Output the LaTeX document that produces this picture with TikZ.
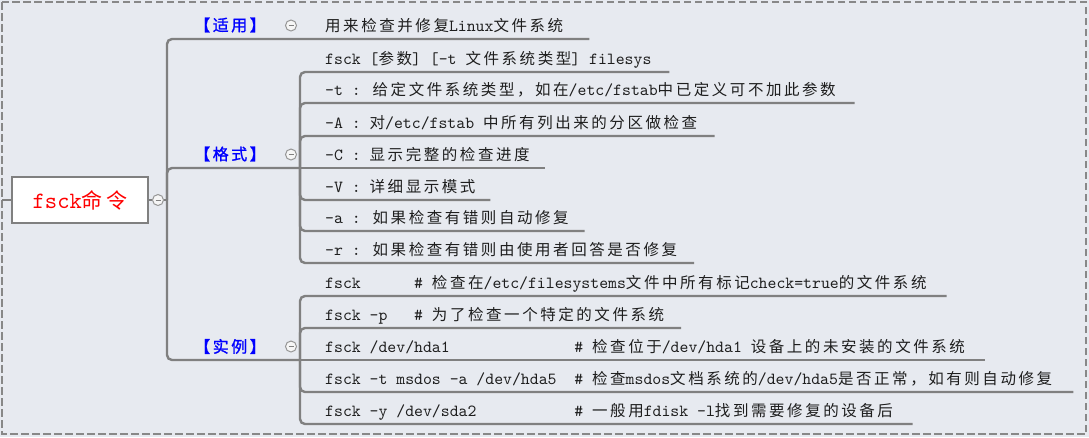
\documentclass[tikz,border=0pt]{standalone}
\usepackage{fontspec}
\usetikzlibrary{calc}
\newfontfamily\zhfont{Noto Sans CJK SC}[LetterSpace=16.5]
\newfontfamily\zhlabfont{Noto Sans CJK SC}[FakeBold=1.2,LetterSpace=15.6]
\newfontfamily\latfont{lmmono10-regular.otf}
\newcommand\zh[1]{{\zhfont\fontsize{15.5pt}{20pt}\selectfont #1}}
\newcommand\mcol[2]{\makebox[#1\fontcharwd\font`0][l]{#2}}
\definecolor{bgc}{RGB}{231,234,240}
\definecolor{lng}{RGB}{128,128,128}
\definecolor{brd}{RGB}{136,136,136}
\definecolor{txt}{RGB}{30,30,30}
\definecolor{labblue}{RGB}{0,0,255}
\definecolor{rootred}{RGB}{255,0,0}
\tikzset{
  br/.style={draw=lng, line width=2.4pt, rounded corners=5pt},
  body/.style={anchor=base west, inner sep=0pt, text=txt,
    font=\latfont\fontsize{16.95pt}{20pt}\selectfont},
  lab/.style={inner sep=0pt, text=labblue,
    font=\zhlabfont\fontsize{16pt}{20pt}\selectfont},
  rootbox/.style={draw=lng, line width=2pt, fill=white, minimum width=136pt,
    minimum height=46.5pt, inner sep=0pt, text=rootred},
  toggle/.style={circle, draw={rgb,255:red,150;green,150;blue,150}, line width=1pt,
    fill={rgb,255:red,246;green,246;blue,246}, minimum size=11pt, inner sep=0pt,
    path picture={\draw[lng, line width=1pt]
      ($(path picture bounding box.west)+(3,0)$) -- ($(path picture bounding box.east)+(-3,0)$);}}
}
\begin{document}
\begin{tikzpicture}[x=1pt,y=-1pt]
\useasboundingbox (0,0) rectangle (1089,437);
\fill[bgc] (0,0) rectangle (1089,437);
\draw[brd, line width=1.6pt, dash pattern=on 7.5pt off 3.5pt] (2,2) rectangle (1086,434);

% root
\node[rootbox] (root) at (80,200)
  {{\latfont\fontsize{23.4pt}{26pt}\selectfont fsck}{\zhfont\fontsize{21pt}{26pt}\selectfont 命令}};
\node[toggle] (rc) at (158,200) {};
\coordinate (edge) at (2,200);
\coordinate (J) at (167,200);

% category labels
\node[lab] (sy) at (230,25) {【适用】};
\node[lab] (gs) at (230,154) {【格式】};
\node[lab] (sl) at (230,346.5) {【实例】};
\node[toggle] (c0) at (291,25.5) {};
\node[toggle] (c1) at (291,154.5) {};
\node[toggle] (c2) at (291,346.5) {};
\coordinate (gsj) at (300,168);
\coordinate (slj) at (300,360);

% 适用
\node[body] (t0) at (325,31) {\zh{用来检查并修复}Linux\zh{文件系统}};

% 格式
\node[body] (f0) at (325,64)  {fsck [\zh{参数}] [-t \zh{文件系统类型}] filesys};
\node[body] (f1) at (325,95)  {-t : \zh{给定文件系统类型，如在}/etc/fstab\zh{中已定义可不加此参数}};
\node[body] (f2) at (325,128) {-A : \zh{对}/etc/fstab \zh{中所有列出来的分区做检查}};
\node[body] (f3) at (325,160) {-C : \zh{显示完整的检查进度}};
\node[body] (f4) at (325,192) {-V : \zh{详细显示模式}};
\node[body] (f5) at (325,223) {-a : \zh{如果检查有错则自动修复}};
\node[body] (f6) at (325,255) {-r : \zh{如果检查有错则由使用者回答是否修复}};

% 实例
\node[body] (e0) at (325,288) {\mcol{10}{fsck}\#\ \zh{检查在}/etc/filesystems\zh{文件中所有标记}check=true\zh{的文件系统}};
\node[body] (e1) at (325,320) {\mcol{10}{fsck -p}\#\ \zh{为了检查一个特定的文件系统}};
\node[body] (e2) at (325,352) {\mcol{28}{fsck /dev/hda1}\#\ \zh{检查位于}/dev/hda1 \zh{设备上的未安装的文件系统}};
\node[body] (e3) at (325,384) {\mcol{28}{fsck -t msdos -a /dev/hda5}\#\ \zh{检查}msdos\zh{文档系统的}/dev/hda5\zh{是否正常，如有则自动修复}};
\node[body] (e4) at (325,416) {\mcol{28}{fsck -y /dev/sda2}\#\ \zh{一般用}fdisk -l\zh{找到需要修复的设备后}};

% connectors
\draw[br] (edge) -- (root.west);
\draw[br] (root.east) -- (rc.west);
\draw[br] (rc.east) -- (J);
\draw[br] (J) |- ($(t0.base east)+(26,8)$);
\draw[br] (J) |- (gsj);
\draw[br] (J) |- (slj);

\draw[br] (gsj) |- ($(f0.base east)+(17.7,8)$);
\draw[br] (gsj) |- ($(f1.base east)+(18.7,8)$);
\draw[br] (gsj) |- ($(f2.base east)+(17.2,8)$);
\draw[br] (gsj) -- ($(f3.base east)+(15.3,8)$);
\draw[br] (gsj) |- ($(f4.base east)+(14.7,8)$);
\draw[br] (gsj) |- ($(f5.base east)+(15.7,8)$);
\draw[br] (gsj) |- ($(f6.base east)+(16.9,8)$);

\draw[br] (slj) |- ($(e0.base east)+(19.8,8)$);
\draw[br] (slj) |- ($(e1.base east)+(16.8,8)$);
\draw[br] (slj) -- ($(e2.base east)+(20,8)$);
\draw[br] (slj) |- ($(e3.base east)+(21,8)$);
\draw[br] (slj) |- ($(e4.base east)+(19.4,8)$);
\end{tikzpicture}
\end{document}
